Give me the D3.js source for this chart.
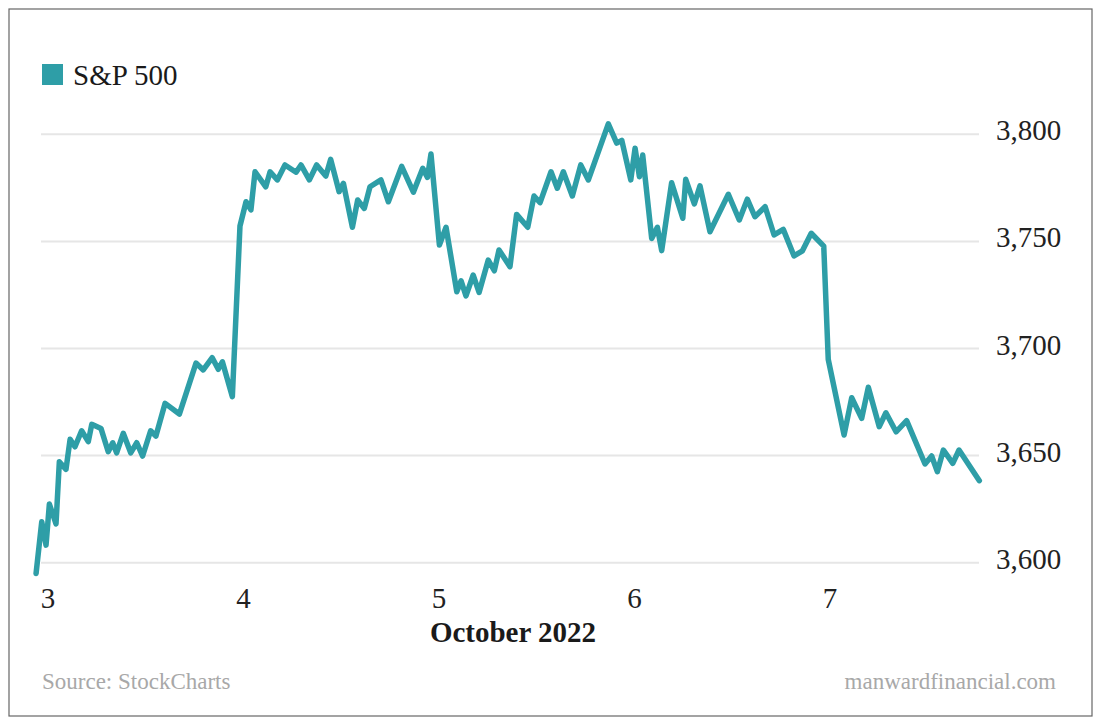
<!DOCTYPE html>
<html>
<head>
<meta charset="utf-8">
<script src="https://cdn.jsdelivr.net/npm/d3@7"></script>
<style>
  html, body { margin: 0; padding: 0; background: #ffffff; }
  svg { display: block; }
  text { font-family: "Liberation Serif", "DejaVu Serif", serif; }
</style>
</head>
<body>
<svg id="chart" width="1100" height="723"></svg>
<script>
// ---- Data (fractional trading day in October 2022, S&P 500 level) ----
const seriesName = "S&P 500";
const days = [
  2.939, 2.968, 2.990, 3.007, 3.041, 3.058, 3.092, 3.113, 3.138, 3.172,
  3.206, 3.224, 3.271, 3.308, 3.331, 3.351, 3.385, 3.423, 3.454, 3.484,
  3.525, 3.552, 3.599, 3.672, 3.757, 3.794, 3.840, 3.871, 3.892, 3.943,
  3.982, 4.013, 4.038, 4.059, 4.114, 4.136, 4.173, 4.212, 4.269, 4.294,
  4.337, 4.374, 4.421, 4.446, 4.489, 4.511, 4.557, 4.584, 4.618, 4.647,
  4.703, 4.741, 4.809, 4.869, 4.917, 4.941, 4.959, 5.002, 5.036, 5.091,
  5.113, 5.138, 5.175, 5.205, 5.252, 5.283, 5.307, 5.363, 5.397, 5.454,
  5.486, 5.517, 5.573, 5.605, 5.636, 5.682, 5.725, 5.764, 5.866, 5.909,
  5.935, 5.981, 6.003, 6.025, 6.042, 6.088, 6.117, 6.139, 6.190, 6.247,
  6.262, 6.306, 6.335, 6.386, 6.480, 6.536, 6.577, 6.616, 6.668, 6.714,
  6.761, 6.816, 6.859, 6.904, 6.968, 6.991, 7.072, 7.111, 7.162, 7.196,
  7.252, 7.286, 7.338, 7.392, 7.486, 7.520, 7.549, 7.580, 7.628, 7.660,
  7.764
];
const values = [
  3595.0, 3619.1, 3608.2, 3627.4, 3618.1, 3647.1, 3643.6, 3657.6, 3654.1, 3661.6,
  3656.5, 3664.6, 3662.7, 3651.8, 3656.0, 3651.3, 3660.4, 3651.3, 3656.0, 3649.8,
  3661.6, 3659.1, 3674.4, 3669.4, 3693.2, 3690.0, 3695.7, 3690.3, 3693.8, 3677.5,
  3757.2, 3768.5, 3764.7, 3782.5, 3775.5, 3782.5, 3778.7, 3785.7, 3782.3, 3785.7,
  3778.7, 3785.7, 3780.5, 3788.3, 3773.2, 3777.1, 3756.6, 3769.3, 3765.4, 3775.5,
  3778.7, 3768.5, 3785.0, 3773.0, 3784.1, 3779.9, 3790.8, 3748.3, 3756.6, 3726.5,
  3731.6, 3724.6, 3734.3, 3726.2, 3741.3, 3736.3, 3746.0, 3738.2, 3762.6, 3756.6,
  3771.2, 3768.1, 3782.5, 3774.8, 3782.5, 3771.2, 3785.7, 3778.7, 3804.9, 3795.9,
  3797.2, 3778.7, 3793.5, 3780.2, 3790.3, 3751.4, 3756.6, 3745.7, 3777.4, 3760.8,
  3779.0, 3767.5, 3775.9, 3754.5, 3772.0, 3760.0, 3769.7, 3761.5, 3766.2, 3753.0,
  3755.6, 3743.2, 3745.6, 3753.8, 3747.8, 3694.9, 3659.6, 3677.0, 3667.4, 3681.9,
  3663.5, 3670.0, 3661.1, 3666.3, 3646.1, 3649.8, 3642.5, 3652.6, 3646.4, 3652.6,
  3638.3
];
const xTicks = [3, 4, 5, 6, 7];
const yTicks = [3600, 3650, 3700, 3750, 3800];
const xTitle = "October 2022";
const sourceText = "Source: StockCharts";
const brandText = "manwardfinancial.com";

// ---- Chart ----
const teal = "#2e9ea7";
const svg = d3.select("#chart");

// outer border
svg.append("rect")
  .attr("x", 9).attr("y", 9)
  .attr("width", 1083).attr("height", 707)
  .attr("fill", "#fff")
  .attr("stroke", "#666").attr("stroke-width", 1.2);

const x = d3.scaleLinear().domain([3, 8]).range([48, 1025.5]);
const y = d3.scaleLinear().domain([3600, 3800]).range([562.7, 134.3]);

const gridX0 = 41, gridX1 = 979;

// gridlines + y labels (right side)
const yAxis = svg.append("g").attr("class", "y-axis");
yAxis.selectAll("line").data(yTicks).join("line")
  .attr("x1", gridX0).attr("x2", gridX1)
  .attr("y1", d => y(d)).attr("y2", d => y(d))
  .attr("stroke", "#e6e6e6").attr("stroke-width", 2);
yAxis.selectAll("text").data(yTicks).join("text")
  .attr("x", 996).attr("y", d => y(d) + 6)
  .attr("font-size", 29).attr("fill", "#222")
  .text(d => d3.format(",")(d));

// x tick labels
const xAxis = svg.append("g").attr("class", "x-axis");
xAxis.selectAll("text").data(xTicks).join("text")
  .attr("x", d => x(d)).attr("y", 608)
  .attr("text-anchor", "middle")
  .attr("font-size", 29).attr("fill", "#222")
  .text(d => d);

svg.append("text")
  .attr("x", 513).attr("y", 642)
  .attr("text-anchor", "middle")
  .attr("font-size", 29).attr("font-weight", "bold").attr("fill", "#1a1a1a")
  .text(xTitle);

// line
const pts = days.map((d, i) => [d, values[i]]);
const line = d3.line().x(d => x(d[0])).y(d => y(d[1]));
svg.append("path")
  .datum(pts)
  .attr("d", line)
  .attr("fill", "none")
  .attr("stroke", teal)
  .attr("stroke-width", 5.5)
  .attr("stroke-linejoin", "round")
  .attr("stroke-linecap", "round");

// legend
svg.append("rect")
  .attr("x", 42).attr("y", 64).attr("width", 21).attr("height", 21)
  .attr("fill", teal);
svg.append("text")
  .attr("x", 73).attr("y", 85)
  .attr("font-size", 29).attr("fill", "#1a1a1a")
  .text(seriesName);

// footer
svg.append("text")
  .attr("x", 42).attr("y", 689)
  .attr("font-size", 23).attr("fill", "#a8a8a8")
  .text(sourceText);
svg.append("text")
  .attr("x", 1056).attr("y", 689)
  .attr("text-anchor", "end")
  .attr("font-size", 23).attr("fill", "#a8a8a8")
  .text(brandText);
</script>
</body>
</html>
